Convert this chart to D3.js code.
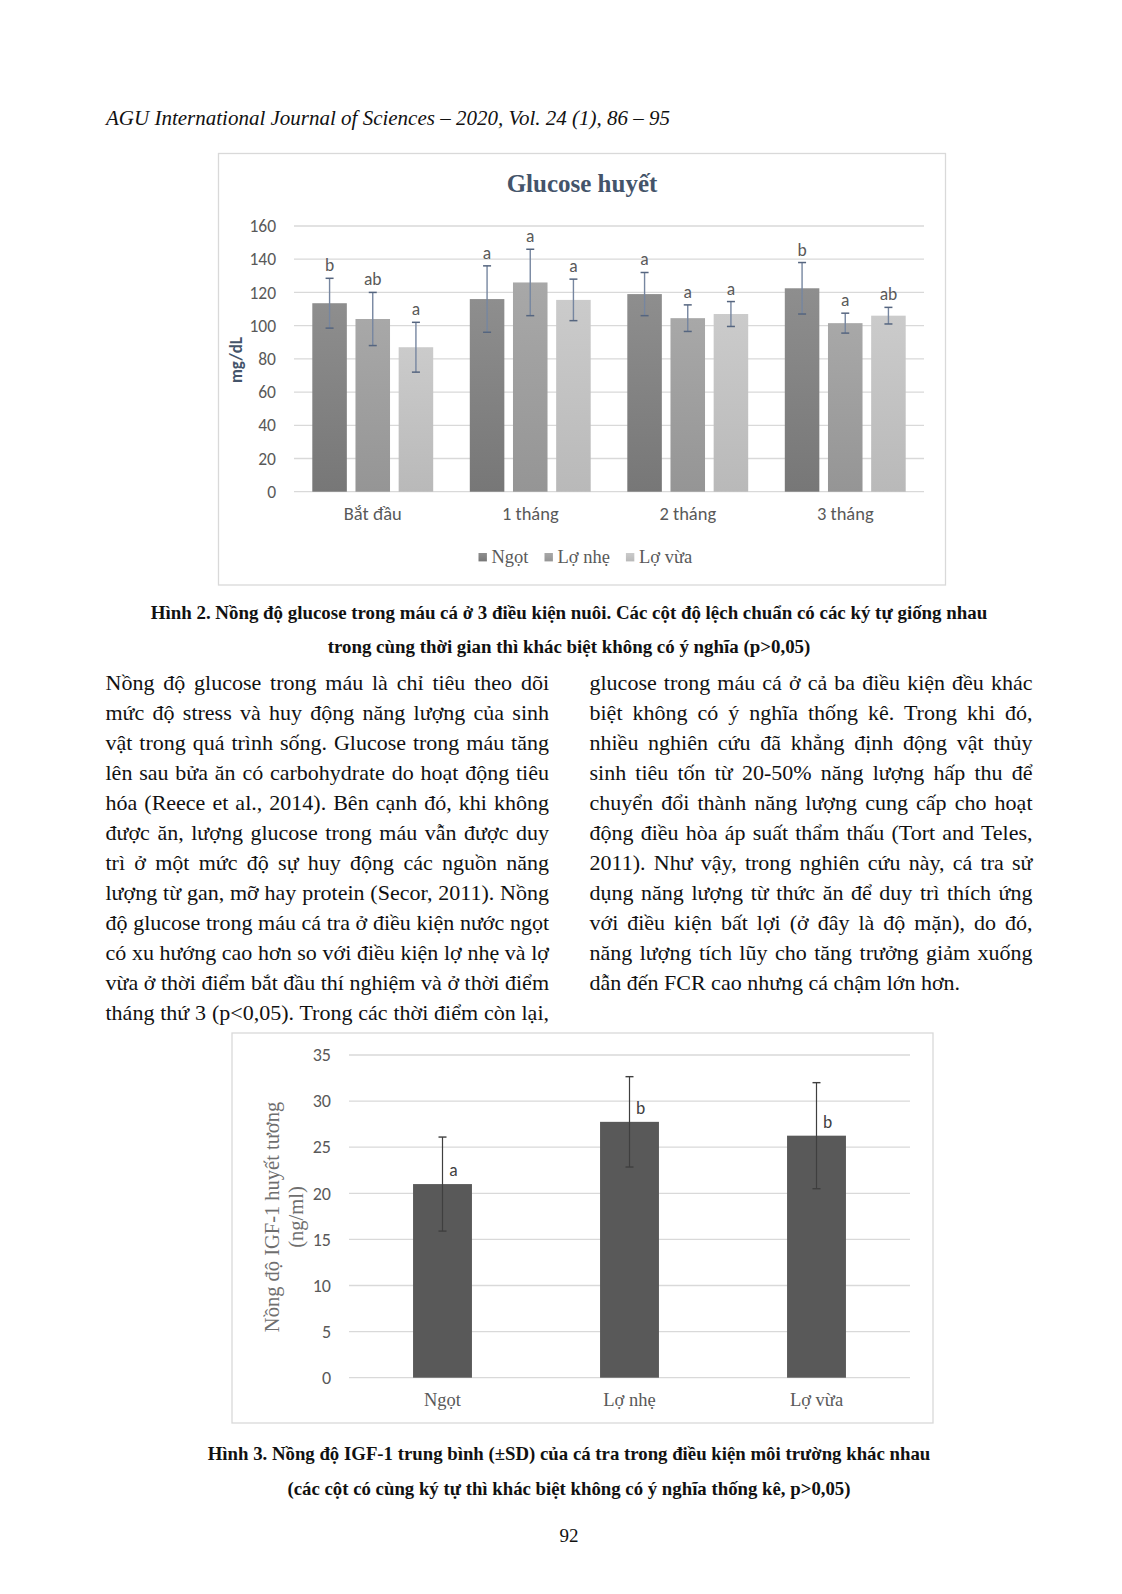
<!DOCTYPE html>
<html>
<head>
<meta charset="utf-8">
<script src="https://cdn.jsdelivr.net/npm/d3@7"></script>
<style>
  body { margin: 0; background: #fff; }
  svg { display: block; }
</style>
</head>
<body>
<div id="page"></div>
<script>
// ---- data: figure 2 (glucose) ----
var glucoseCats = ["Bắt đầu", "1 tháng", "2 tháng", "3 tháng"];
var glucoseSeries = ["Ngọt", "Lợ nhẹ", "Lợ vừa"];
var glucoseMean = [
  [113.5, 116, 119, 122.5],
  [104, 126, 104.5, 101.5],
  [87, 115.5, 107, 106]
];
var glucoseSD = [
  [15, 20, 13, 15.5],
  [16, 20, 8, 6],
  [15, 12.5, 7.5, 5]
];
var glucoseLetters = [
  ["b", "a", "a", "b"],
  ["ab", "a", "a", "a"],
  ["a", "a", "a", "ab"]
];
var glucoseTicks = [0, 20, 40, 60, 80, 100, 120, 140, 160];

// ---- data: figure 3 (IGF-1) ----
var igfCats = ["Ngọt", "Lợ nhẹ", "Lợ vừa"];
var igfMean = [21, 27.75, 26.25];
var igfSD = [5.1, 4.9, 5.75];
var igfLetters = ["a", "b", "b"];
var igfTicks = [0, 5, 10, 15, 20, 25, 30, 35];

// ---- page text ----
var header = "AGU International Journal of Sciences – 2020, Vol. 24 (1), 86 – 95";
var caption2 = ["Hình 2. Nồng độ glucose trong máu cá ở 3 điều kiện nuôi. Các cột độ lệch chuẩn có các ký tự giống nhau",
  "trong cùng thời gian thì khác biệt không có ý nghĩa (p>0,05)"];
var caption3 = ["Hình 3. Nồng độ IGF-1 trung bình (±SD) của cá tra trong điều kiện môi trường khác nhau",
  "(các cột có cùng ký tự thì khác biệt không có ý nghĩa thống kê, p>0,05)"];
var leftCol = [
  "Nồng độ glucose trong máu là chỉ tiêu theo dõi",
  "mức độ stress và huy động năng lượng của sinh",
  "vật trong quá trình sống. Glucose trong máu tăng",
  "lên sau bửa ăn có carbohydrate do hoạt động tiêu",
  "hóa (Reece et al., 2014). Bên cạnh đó, khi không",
  "được ăn, lượng glucose trong máu vẫn được duy",
  "trì ở một mức độ sự huy động các nguồn năng",
  "lượng từ gan, mỡ hay protein (Secor, 2011). Nồng",
  "độ glucose trong máu cá tra ở điều kiện nước ngọt",
  "có xu hướng cao hơn so với điều kiện lợ nhẹ và lợ",
  "vừa ở thời điểm bắt đầu thí nghiệm và ở thời điểm",
  "tháng thứ 3 (p<0,05). Trong các thời điểm còn lại,"
];
var rightCol = [
  "glucose trong máu cá ở cả ba điều kiện đều khác",
  "biệt không có ý nghĩa thống kê. Trong khi đó,",
  "nhiều nghiên cứu đã khẳng định động vật thủy",
  "sinh tiêu tốn từ 20-50% năng lượng hấp thu để",
  "chuyển đổi thành năng lượng cung cấp cho hoạt",
  "động điều hòa áp suất thẩm thấu (Tort and Teles,",
  "2011). Như vậy, trong nghiên cứu này, cá tra sử",
  "dụng năng lượng từ thức ăn để duy trì thích ứng",
  "với điều kiện bất lợi (ở đây là độ mặn), do đó,",
  "năng lượng tích lũy cho tăng trưởng giảm xuống",
  "dẫn đến FCR cao nhưng cá chậm lớn hơn."
];

var serif = "'Liberation Serif', 'Times New Roman', serif";
var sans = "Carlito, Lato, 'Open Sans', sans-serif";

var svg = d3.select("#page").append("svg")
  .attr("width", 1122)
  .attr("height", 1594)
  .style("background", "#fff");

// header
svg.append("text")
  .attr("x", 106).attr("y", 125)
  .style("font-family", serif).style("font-style", "italic")
  .style("font-size", "21px").attr("fill", "#111")
  .text(header);

// ===================== Figure 2 =====================
var g2 = svg.append("g");
g2.append("rect")
  .attr("x", 218.5).attr("y", 153.5).attr("width", 727).attr("height", 431.5)
  .attr("fill", "#fff").attr("stroke", "#d9d9d9").attr("stroke-width", 1.3);

g2.append("text")
  .attr("x", 582).attr("y", 192)
  .attr("text-anchor", "middle")
  .style("font-family", serif).style("font-weight", "bold").style("font-size", "25px")
  .attr("fill", "#44546a")
  .text("Glucose huyết");

var y2 = d3.scaleLinear().domain([0, 160]).range([491.7, 226]);
var x2 = d3.scaleBand().domain(glucoseCats).range([294, 924]);
var x2s = d3.scaleBand().domain(glucoseSeries).range([18.3, x2.bandwidth() - 18.3]).paddingInner(0.2);

// gradients for bars
var barTop = ["#8e8e8e", "#a8a8a8", "#cbcbcb"];
var barBot = ["#777777", "#959595", "#b9b9b9"];
var defs = svg.append("defs");
glucoseSeries.forEach(function (s, i) {
  var lg = defs.append("linearGradient").attr("id", "grad" + i)
    .attr("x1", 0).attr("y1", 0).attr("x2", 0).attr("y2", 1);
  lg.append("stop").attr("offset", "0%").attr("stop-color", barTop[i]);
  lg.append("stop").attr("offset", "100%").attr("stop-color", barBot[i]);
});

// gridlines
g2.append("g").selectAll("line")
  .data(glucoseTicks)
  .enter().append("line")
  .attr("x1", 294).attr("x2", 924)
  .attr("y1", function (d) { return y2(d); })
  .attr("y2", function (d) { return y2(d); })
  .attr("stroke", "#d9d9d9").attr("stroke-width", 1.3);

// y axis labels
var ax2 = g2.append("g")
  .attr("transform", "translate(283,0)")
  .call(d3.axisLeft(y2).tickValues(glucoseTicks).tickSize(0).tickPadding(7));
ax2.select(".domain").remove();
ax2.selectAll("text")
  .style("font-family", sans).style("font-size", "17.5px").attr("fill", "#595959");

// x axis labels
var bx2 = g2.append("g")
  .attr("transform", "translate(0,491.7)")
  .call(d3.axisBottom(x2).tickSize(0).tickPadding(15));
bx2.select(".domain").remove();
bx2.selectAll("text")
  .style("font-family", sans).style("font-size", "18.5px").attr("fill", "#595959");

// y title
g2.append("text")
  .attr("transform", "translate(242,360) rotate(-90)")
  .attr("text-anchor", "middle")
  .style("font-family", sans).style("font-weight", "bold").style("font-size", "17px")
  .attr("fill", "#44546a")
  .text("mg/dL");

// bars
var bars2 = [];
glucoseSeries.forEach(function (s, si) {
  glucoseCats.forEach(function (c, ci) {
    bars2.push({ s: s, si: si, c: c, v: glucoseMean[si][ci], sd: glucoseSD[si][ci], lab: glucoseLetters[si][ci] });
  });
});

var bg = g2.append("g").selectAll("g.bar")
  .data(bars2)
  .enter().append("g")
  .attr("transform", function (d) { return "translate(" + (x2(d.c) + x2s(d.s)) + ",0)"; });

bg.append("rect")
  .attr("x", 0)
  .attr("width", x2s.bandwidth())
  .attr("y", function (d) { return y2(d.v); })
  .attr("height", function (d) { return y2(0) - y2(d.v); })
  .attr("fill", function (d) { return "url(#grad" + d.si + ")"; });

var cw = x2s.bandwidth() / 2;
bg.append("line")
  .attr("x1", cw).attr("x2", cw)
  .attr("y1", function (d) { return y2(d.v + d.sd); })
  .attr("y2", function (d) { return y2(d.v - d.sd); })
  .attr("stroke", "#7686a0").attr("stroke-width", 1.4);
bg.selectAll("line.cap")
  .data(function (d) { return [d.v + d.sd, d.v - d.sd]; })
  .enter().append("line")
  .attr("class", "cap")
  .attr("x1", cw - 4).attr("x2", cw + 4)
  .attr("y1", function (d) { return y2(d); })
  .attr("y2", function (d) { return y2(d); })
  .attr("stroke", "#55657f").attr("stroke-width", 1.5);

bg.append("text")
  .attr("x", cw)
  .attr("y", function (d) { return y2(d.v + d.sd) - 7; })
  .attr("text-anchor", "middle")
  .style("font-family", sans).style("font-size", "17.5px")
  .attr("fill", "#595959")
  .text(function (d) { return d.lab; });

// legend
var leg = g2.append("g").attr("transform", "translate(0,562.5)");
var lx = 478.5;
glucoseSeries.forEach(function (s, i) {
  leg.append("rect")
    .attr("x", lx).attr("y", -9.5).attr("width", 8.4).attr("height", 8.4)
    .attr("fill", "url(#grad" + i + ")");
  var t = leg.append("text")
    .attr("x", lx + 13).attr("y", 0)
    .style("font-family", serif).style("font-size", "18.5px")
    .attr("fill", "#595959")
    .text(s);
  lx = lx + 13 + t.node().getComputedTextLength() + 16;
});

// ===================== Figure 3 =====================
var g3 = svg.append("g");
g3.append("rect")
  .attr("x", 232).attr("y", 1033).attr("width", 701).attr("height", 390)
  .attr("fill", "#fff").attr("stroke", "#d9d9d9").attr("stroke-width", 1.3);

var y3 = d3.scaleLinear().domain([0, 35]).range([1377.7, 1055]);
var x3 = d3.scaleBand().domain(igfCats).range([349, 910]);
var bw3 = x3.bandwidth() * 0.315;

g3.append("g").selectAll("line")
  .data(igfTicks)
  .enter().append("line")
  .attr("x1", 349).attr("x2", 910)
  .attr("y1", function (d) { return y3(d); })
  .attr("y2", function (d) { return y3(d); })
  .attr("stroke", "#d9d9d9").attr("stroke-width", 1.3);

var ax3 = g3.append("g")
  .attr("transform", "translate(338,0)")
  .call(d3.axisLeft(y3).tickValues(igfTicks).tickSize(0).tickPadding(7));
ax3.select(".domain").remove();
ax3.selectAll("text")
  .style("font-family", sans).style("font-size", "18px").attr("fill", "#595959");

var bx3 = g3.append("g")
  .attr("transform", "translate(0,1377.7)")
  .call(d3.axisBottom(x3).tickSize(0).tickPadding(15));
bx3.select(".domain").remove();
bx3.selectAll("text")
  .style("font-family", serif).style("font-size", "18.5px").attr("fill", "#595959");

// y title (two lines)
var yt3 = g3.append("text")
  .attr("transform", "translate(279,1217) rotate(-90)")
  .attr("text-anchor", "middle")
  .style("font-family", serif).style("font-size", "20.5px")
  .attr("fill", "#6f6f6f");
yt3.append("tspan").attr("x", 0).attr("dy", 0).text("Nồng độ IGF-1 huyết tương");
yt3.append("tspan").attr("x", 0).attr("dy", 24).text("(ng/ml)");

var bg3 = g3.append("g").selectAll("g")
  .data(igfCats.map(function (c, i) { return { c: c, v: igfMean[i], sd: igfSD[i], lab: igfLetters[i] }; }))
  .enter().append("g")
  .attr("transform", function (d) { return "translate(" + (x3(d.c) + x3.bandwidth() / 2) + ",0)"; });

bg3.append("rect")
  .attr("x", -bw3 / 2).attr("width", bw3)
  .attr("y", function (d) { return y3(d.v); })
  .attr("height", function (d) { return y3(0) - y3(d.v); })
  .attr("fill", "#595959");
bg3.append("line")
  .attr("x1", 0).attr("x2", 0)
  .attr("y1", function (d) { return y3(d.v + d.sd); })
  .attr("y2", function (d) { return y3(d.v - d.sd); })
  .attr("stroke", "#3f3f3f").attr("stroke-width", 1.2);
bg3.selectAll("line.cap")
  .data(function (d) { return [d.v + d.sd, d.v - d.sd]; })
  .enter().append("line")
  .attr("class", "cap")
  .attr("x1", -4).attr("x2", 4)
  .attr("y1", function (d) { return y3(d); })
  .attr("y2", function (d) { return y3(d); })
  .attr("stroke", "#3f3f3f").attr("stroke-width", 1.4);
bg3.append("text")
  .attr("x", 11)
  .attr("y", function (d) { return y3(d.v) - 8; })
  .attr("text-anchor", "middle")
  .style("font-family", sans).style("font-size", "17.5px")
  .attr("fill", "#404040")
  .text(function (d) { return d.lab; });

// ===================== captions and body text =====================
function centered(lines, y0, step, size) {
  svg.append("g").selectAll("text")
    .data(lines)
    .enter().append("text")
    .attr("x", 569)
    .attr("y", function (d, i) { return y0 + i * step; })
    .attr("text-anchor", "middle")
    .style("font-family", serif).style("font-weight", "bold").style("font-size", size + "px")
    .attr("fill", "#111")
    .text(function (d) { return d; });
}
centered(caption2, 619, 33.5, 18.9);
centered(caption3, 1460, 35, 18.8);

function column(lines, x0, width, lastJustify) {
  lines.forEach(function (line, i) {
    var t = svg.append("text")
      .attr("x", x0).attr("y", 690 + i * 30)
      .style("font-family", serif).style("font-size", "22px")
      .attr("fill", "#111")
      .text(line);
    if (i < lines.length - 1 || lastJustify) {
      var nat = t.node().getComputedTextLength();
      var spaces = line.split(" ").length - 1;
      if (spaces > 0) t.style("word-spacing", ((width - nat) / spaces) + "px");
    }
  });
}
column(leftCol, 105.5, 443.5, true);
column(rightCol, 589.5, 443, false);

svg.append("text")
  .attr("x", 569).attr("y", 1542)
  .attr("text-anchor", "middle")
  .style("font-family", serif).style("font-size", "19px")
  .attr("fill", "#111")
  .text("92");
</script>
</body>
</html>
